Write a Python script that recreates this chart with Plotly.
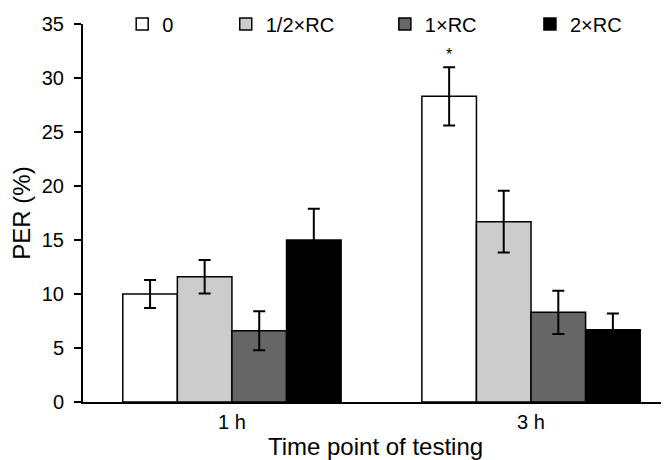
import plotly.graph_objects as go

categories = ["1 h", "3 h"]
series_names = ["0", "1/2×RC", "1×RC", "2×RC"]
values = {
    "0": [10.0, 28.3],
    "1/2×RC": [11.6, 16.7],
    "1×RC": [6.6, 8.3],
    "2×RC": [15.0, 6.7],
}
errors = {
    "0": [1.3, 2.7],
    "1/2×RC": [1.55, 2.85],
    "1×RC": [1.8, 2.0],
    "2×RC": [2.9, 1.5],
}
colors = {"0": "#ffffff", "1/2×RC": "#cccccc", "1×RC": "#666666", "2×RC": "#000000"}
y_ticks = [0, 5, 10, 15, 20, 25, 30, 35]
legend_x = [0.067, 0.244, 0.516, 0.764]

xpos = list(range(len(categories)))
bargap = 0.27
bar_w = (1 - bargap) / len(series_names)

fig = go.Figure()
for i, name in enumerate(series_names):
    lg = "legend" if i == 0 else f"legend{i + 1}"
    fig.add_trace(go.Bar(
        x=xpos, y=values[name], name=name, legend=lg,
        marker=dict(color=colors[name], line=dict(color="#000000", width=1.5)),
        error_y=dict(type="data", array=errors[name], color="#000000", thickness=2, width=6),
    ))

# significance marker above the 3 h control bar
star_x = xpos[1] - (1 - bargap) / 2 + bar_w / 2
star_y = values["0"][1] + errors["0"][1]
fig.add_annotation(x=star_x, y=star_y, text="*", showarrow=False, yshift=13,
                   font=dict(size=16, color="#000000"), xref="x", yref="y")

font = "Liberation Sans, Arial, sans-serif"
legend_common = dict(orientation="h", y=1.0, xanchor="left", yanchor="middle",
                     font=dict(size=20), bgcolor="rgba(0,0,0,0)", borderwidth=0)
layout_legends = {}
for i, lx in enumerate(legend_x):
    key = "legend" if i == 0 else f"legend{i + 1}"
    layout_legends[key] = dict(x=lx, **legend_common)

fig.update_layout(
    width=661, height=452,
    margin=dict(l=75, r=1, t=16, b=58, autoexpand=False),
    paper_bgcolor="white", plot_bgcolor="white",
    barmode="group", bargap=bargap, bargroupgap=0,
    font=dict(family=font, size=20, color="#000000"),
    showlegend=True,
    xaxis=dict(
        range=[-0.498, 1.458], tickvals=xpos, ticktext=categories,
        showline=True, linecolor="#000000", linewidth=2, ticks="",
        showgrid=False, zeroline=False, ticklabelstandoff=1,
        title=dict(text="Time point of testing", standoff=10),
    ),
    yaxis=dict(
        range=[0, 35], tickvals=y_ticks, showline=True, linecolor="#000000", linewidth=2,
        ticks="outside", ticklen=7, tickwidth=1.5, tickcolor="#000000",
        showgrid=False, zeroline=False, ticklabelstandoff=6,
        title=dict(text="PER (%)", standoff=6),
    ),
    **layout_legends,
)

fig.write_html("out.html")
